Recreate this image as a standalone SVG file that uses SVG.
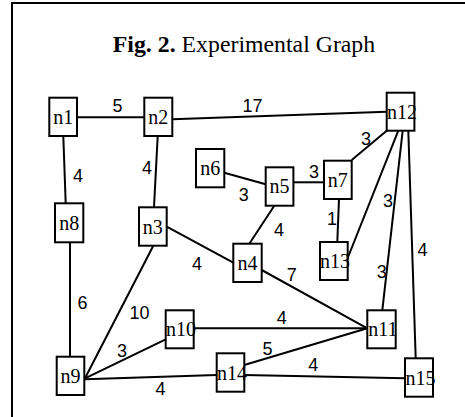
<svg xmlns="http://www.w3.org/2000/svg" width="465" height="417" viewBox="0 0 465 417">
<style>
.frame{fill:none;stroke:#000;stroke-width:2}
.node rect{fill:#fff;stroke:#000;stroke-width:2}
.node text{font-family:"Liberation Serif","Times New Roman",serif;font-size:20px;text-anchor:middle;fill:#000}
.edges line{stroke:#000;stroke-width:2}
.wt{font-family:"Liberation Sans",Arial,sans-serif;font-size:18px;text-anchor:middle;fill:#000}
.title{font-family:"Liberation Serif","Times New Roman",serif;font-size:23.8px;text-anchor:middle;fill:#000}
</style>
<rect width="465" height="417" fill="#fff"/>
<path class="frame" d="M12,417 V3 H465"/>
<text class="title" x="244" y="52"><tspan font-weight="bold">Fig. 2.</tspan> Experimental Graph</text>
<g class="edges">
<line x1="77" y1="117.3" x2="144.3" y2="117.3"/>
<line x1="172.3" y1="119.3" x2="386.7" y2="111.7"/>
<line x1="63.3" y1="136" x2="65.7" y2="203.3"/>
<line x1="157.7" y1="136" x2="154" y2="207.3"/>
<line x1="70" y1="242.3" x2="70" y2="356.7"/>
<line x1="224.3" y1="172.7" x2="265.7" y2="184.3"/>
<line x1="293.3" y1="182.3" x2="324" y2="182.3"/>
<line x1="351.7" y1="160" x2="387" y2="130.5"/>
<line x1="339" y1="199" x2="337.3" y2="242"/>
<line x1="398.3" y1="130.7" x2="347.7" y2="258"/>
<line x1="402.7" y1="130.7" x2="382.3" y2="310.3"/>
<line x1="408.3" y1="130.7" x2="415.7" y2="358.3"/>
<line x1="274.3" y1="205.7" x2="249.3" y2="243.7"/>
<line x1="166.7" y1="226.7" x2="233.3" y2="262.7"/>
<line x1="261.7" y1="270" x2="367.3" y2="328.3"/>
<line x1="153.3" y1="245.7" x2="85" y2="378.3"/>
<line x1="165.7" y1="339.3" x2="85" y2="378.3"/>
<line x1="193.7" y1="328.3" x2="367.3" y2="328.3"/>
<line x1="244.3" y1="365" x2="367.3" y2="328.3"/>
<line x1="85" y1="379.3" x2="216.7" y2="375"/>
<line x1="244.3" y1="375" x2="405" y2="378.3"/>
</g>
<g class="weights">
<text class="wt" x="117.5" y="111.7">5</text>
<text class="wt" x="252.5" y="112">17</text>
<text class="wt" x="366" y="145">3</text>
<text class="wt" x="78" y="181.7">4</text>
<text class="wt" x="147" y="174">4</text>
<text class="wt" x="243.7" y="200.7">3</text>
<text class="wt" x="314" y="177.7">3</text>
<text class="wt" x="388" y="207.3">3</text>
<text class="wt" x="332" y="225">1</text>
<text class="wt" x="279" y="236">4</text>
<text class="wt" x="422.5" y="256">4</text>
<text class="wt" x="197" y="270">4</text>
<text class="wt" x="291.7" y="281">7</text>
<text class="wt" x="381.7" y="277.5">3</text>
<text class="wt" x="82.5" y="309">6</text>
<text class="wt" x="139.5" y="319.3">10</text>
<text class="wt" x="281.7" y="324">4</text>
<text class="wt" x="122" y="356.7">3</text>
<text class="wt" x="267.5" y="355">5</text>
<text class="wt" x="313.3" y="370.7">4</text>
<text class="wt" x="160.5" y="395">4</text>
</g>
<g id="n1" class="node"><rect x="49.3" y="97.7" width="27.7" height="38.3"/><text x="63.2" y="123.5">n1</text></g>
<g id="n2" class="node"><rect x="144.3" y="97.7" width="28" height="38.3"/><text x="158.3" y="123.5">n2</text></g>
<g id="n12" class="node"><rect x="386.7" y="92.7" width="27.7" height="38"/><text x="402" y="118.5">n12</text></g>
<g id="n6" class="node"><rect x="196" y="149" width="28.3" height="38.3"/><text x="210.2" y="174.5">n6</text></g>
<g id="n5" class="node"><rect x="265.7" y="167.3" width="27.7" height="38.4"/><text x="279.5" y="193">n5</text></g>
<g id="n7" class="node"><rect x="324" y="160.7" width="27.7" height="38.3"/><text x="337.8" y="186.5">n7</text></g>
<g id="n8" class="node"><rect x="55" y="203.3" width="28.3" height="39"/><text x="69.2" y="230">n8</text></g>
<g id="n3" class="node"><rect x="139" y="207.3" width="27.7" height="38.4"/><text x="152.8" y="233.5">n3</text></g>
<g id="n4" class="node"><rect x="233.3" y="243.7" width="28.4" height="38.3"/><text x="247.5" y="270">n4</text></g>
<g id="n13" class="node"><rect x="320" y="242" width="27.7" height="38"/><text x="335" y="268">n13</text></g>
<g id="n10" class="node"><rect x="165.7" y="310.3" width="28" height="38"/><text x="181" y="336">n10</text></g>
<g id="n11" class="node"><rect x="367.3" y="310.3" width="28.4" height="38"/><text x="383" y="336">n11</text></g>
<g id="n9" class="node"><rect x="56.7" y="356.7" width="27.6" height="38.3"/><text x="70.5" y="383">n9</text></g>
<g id="n14" class="node"><rect x="216.7" y="353.3" width="27.6" height="38.4"/><text x="232" y="379.5">n14</text></g>
<g id="n15" class="node"><rect x="405" y="358.3" width="28" height="38.4"/><text x="420.5" y="384.5">n15</text></g>
</svg>
